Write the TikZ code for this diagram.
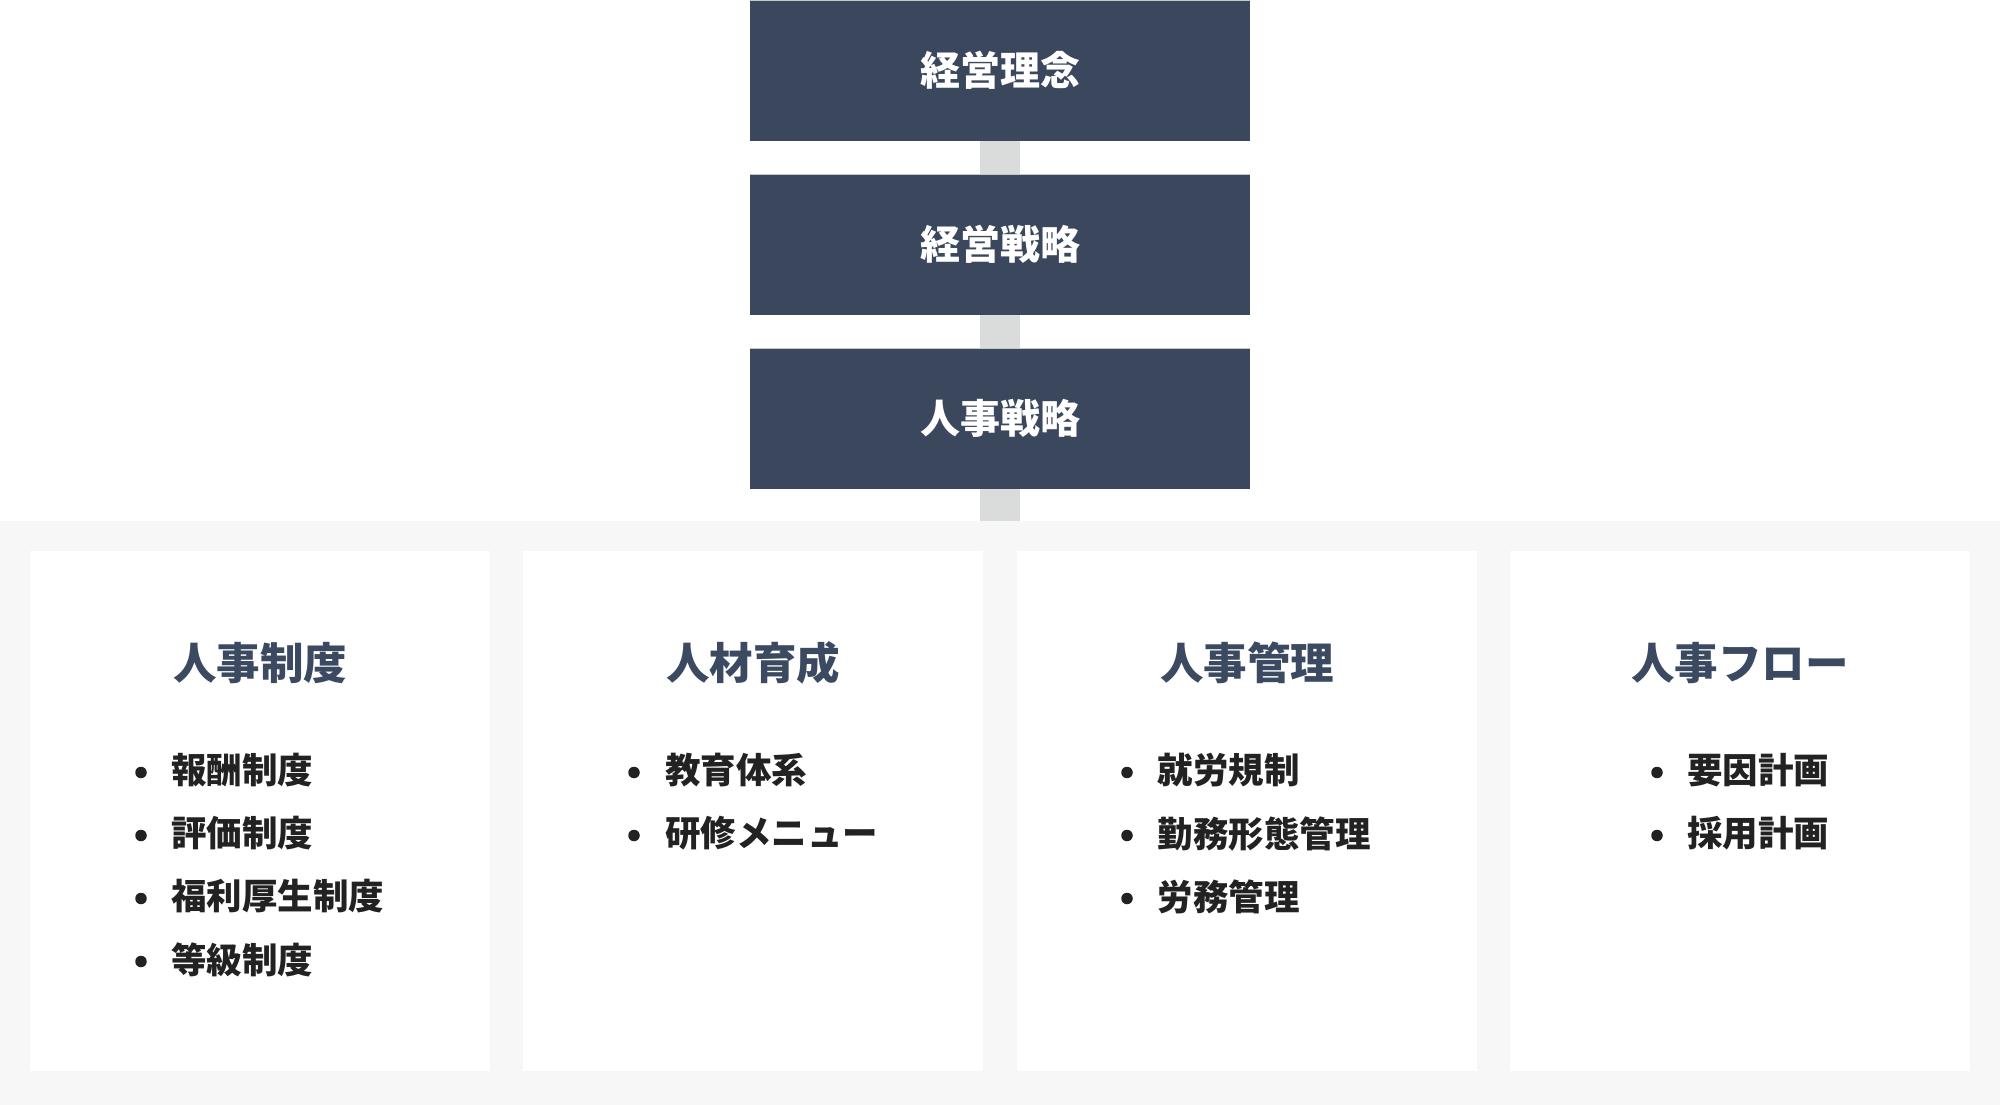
\documentclass[tikz,border=0pt]{standalone}
\usepackage{fontspec}
\newfontfamily\jp{Noto Sans CJK JP}
\definecolor{boxfill}{HTML}{3A475D}
\definecolor{titlecol}{HTML}{3B4A61}
\definecolor{itemcol}{HTML}{222222}
\definecolor{bandcol}{HTML}{F7F7F7}
\definecolor{conncol}{HTML}{D9DCDA}
\definecolor{edgecol}{HTML}{C3C7CB}
\tikzset{
  topbox/.style={rectangle, fill=boxfill, minimum width=500pt, minimum height=141pt,
    inner sep=0pt, anchor=north, text=white, font=\jp\bfseries\fontsize{40}{48}\selectfont},
  card/.style={rectangle, fill=white, minimum width=460pt, minimum height=520pt,
    inner sep=0pt, anchor=north},
  cardtitle/.style={inner sep=0pt, text=titlecol, font=\jp\bfseries\fontsize{43.5}{50}\selectfont},
  item/.style={inner sep=0pt, anchor=west, text=itemcol, font=\jp\bfseries\fontsize{35.5}{42}\selectfont},
  dot/.style={circle, fill=itemcol, minimum size=11.5pt, inner sep=0pt, yshift=-1.5pt},
  conn/.style={conncol, line width=40pt, line cap=butt},
  edge/.style={edgecol, line width=1pt}
}
\begin{document}
\begin{tikzpicture}[x=1pt,y=-1pt]
\useasboundingbox (0,0) rectangle (2000,1105);
\fill[white] (0,0) rectangle (2000,1105);
% band
\fill[bandcol] (0,520.5) rectangle (2000,1105);
\coordinate (bandtop) at (1000,520.5);
% top boxes
\node[topbox] (b1) at (1000,0) {経営理念};
\node[topbox] (b2) at (1000,174) {経営戦略};
\node[topbox] (b3) at (1000,348) {人事戦略};
\foreach \b in {b1,b2,b3}{\draw[edge] (\b.north west) ++(0,0.5) -- ([yshift=-0.5pt]\b.north east);}
% connectors
\draw[conn] (b1.south) -- (b2.north);
\draw[conn] (b2.south) -- (b3.north);
\draw[conn] (b3.south) -- (bandtop);
% cards
\node[card] (c1) at (260,550.5) {};
\node[card] (c2) at (753,550.5) {};
\node[card] (c3) at (1247,550.5) {};
\node[card] (c4) at (1740,550.5) {};
% titles
\node[cardtitle] (t1) at (260,663) {人事制度};
\node[cardtitle] (t2) at (753,663) {人材育成};
\node[cardtitle] (t3) at (1247,663) {人事管理};
\node[cardtitle] (t4) at (1740,663) {人事フロー};
% card 1 items
\node[dot] (d11) at (141,771) {}; \node[item] (i11) at (171,770.5) {報酬制度};
\node[dot] (d12) at (141,834) {}; \node[item] (i12) at (171,833.5) {評価制度};
\node[dot] (d13) at (141,897) {}; \node[item] (i13) at (171,896.5) {福利厚生制度};
\node[dot] (d14) at (141,960) {}; \node[item] (i14) at (171,959.5) {等級制度};
% card 2 items
\node[dot] (d21) at (634,771) {}; \node[item] (i21) at (665,770.5) {教育体系};
\node[dot] (d22) at (634,834) {}; \node[item] (i22) at (665,833.5) {研修メニュー};
% card 3 items
\node[dot] (d31) at (1127,771) {}; \node[item] (i31) at (1157.5,770.5) {就労規制};
\node[dot] (d32) at (1127,834) {}; \node[item] (i32) at (1157.5,833.5) {勤務形態管理};
\node[dot] (d33) at (1127,897) {}; \node[item] (i33) at (1157.5,896.5) {労務管理};
% card 4 items
\node[dot] (d41) at (1657,771) {}; \node[item] (i41) at (1687,770.5) {要因計画};
\node[dot] (d42) at (1657,834) {}; \node[item] (i42) at (1687,833.5) {採用計画};
\end{tikzpicture}
\end{document}
